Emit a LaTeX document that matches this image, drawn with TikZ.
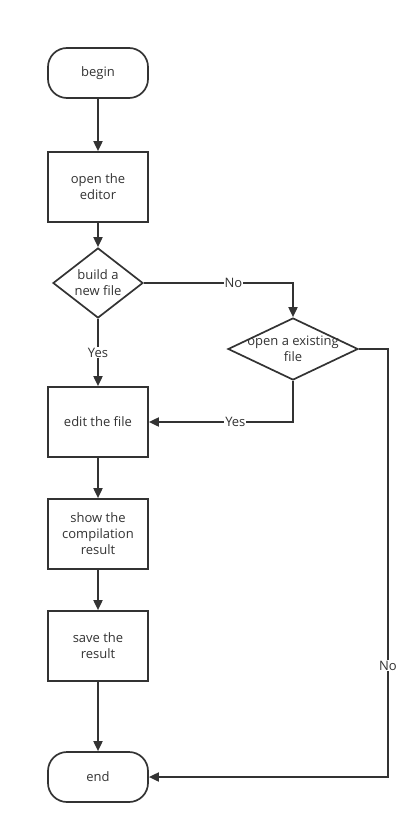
\documentclass[tikz,border=0pt]{standalone}
\usepackage{fontspec}
\setmainfont{Open Sans}
\usetikzlibrary{arrows.meta,shapes.geometric}
\definecolor{ink}{HTML}{333333}
\begin{document}
\begin{tikzpicture}[x=1pt,y=-1pt,
  every node/.style={font=\fontsize{13}{16}\selectfont, text=ink},
  base/.style={draw=ink, line width=1.7pt, fill=white, align=center, inner sep=0pt},
  term/.style={base, rounded corners=19pt, minimum width=100pt, minimum height=50pt},
  proc/.style={base, minimum width=100pt, minimum height=70pt},
  dia/.style={base, diamond, minimum width=90pt, minimum height=70pt},
  conn/.style={draw=ink, line width=1.8pt, -{Triangle[length=10pt,width=9pt]}},
  lab/.style={fill=white, inner sep=1pt}
]
\useasboundingbox (0,0) rectangle (419,834);
\node[term] (begin) at (98,73) {begin};
\node[proc] (editor) at (98,187) {open the\\editor};
\node[dia] (d1) at (98,283) {};
\node[align=center] (d1t) at (98,283) {build a\\new file};
\node[dia, minimum width=130pt, minimum height=62pt] (d2) at (293,349) {};
\node[align=center] (d2t) at (293,349) {open a existing\\file};
\node[proc] (edit) at (98,422) {edit the file};
\node[proc] (show) at (98,534) {show the\\compilation\\result};
\node[proc] (save) at (98,646) {save the\\result};
\node[term] (end) at (98,777) {end};
\coordinate (c1) at (293,283);
\coordinate (c2) at (293,422);
\coordinate (c3) at (388,349);
\coordinate (c4) at (388,777);

\draw[conn] (begin) -- (editor);
\draw[conn] (editor) -- (d1);
\draw[conn] (d1) -- node[lab, pos=0.5] {Yes} (edit);
\draw[conn] (d1.east) -- node[lab, pos=0.6] {No} (c1) -- (d2.north);
\draw[conn] (d2.south) -- (c2) -- node[lab, pos=0.4] {Yes} (edit.east);
\draw[conn] (d2.east) -- (c3) -- node[lab, pos=0.74] {No} (c4) -- (end.east);
\draw[conn] (edit) -- (show);
\draw[conn] (show) -- (save);
\draw[conn] (save) -- (end);
\end{tikzpicture}
\end{document}
